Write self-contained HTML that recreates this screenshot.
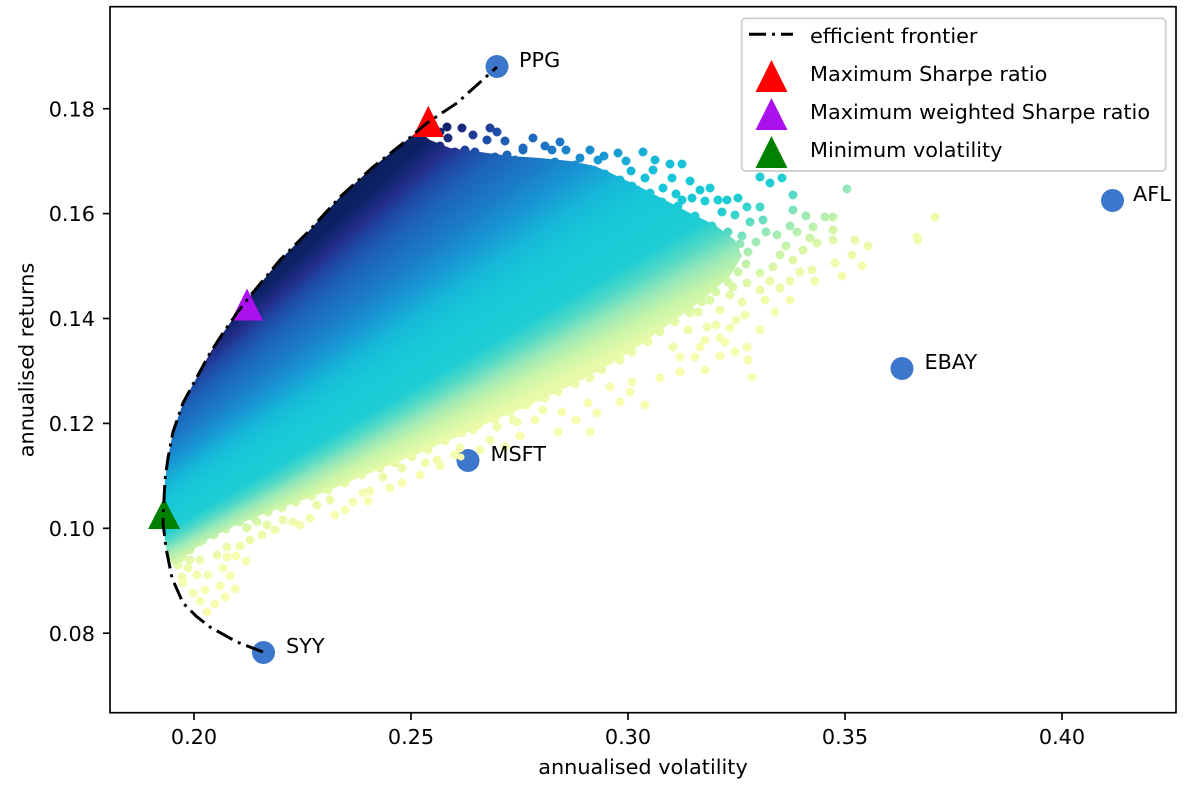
<!DOCTYPE html>
<html>
<head>
<meta charset="utf-8">
<style>
  html,body{margin:0;padding:0;background:#fff;}
  #wrap{position:relative;width:1200px;height:796px;overflow:hidden;background:#fff;}
  svg{position:absolute;left:0;top:0;}
  #cloud{position:absolute;left:0;top:0;width:1200px;height:796px;
    background:conic-gradient(from 0deg at -300px 800px,
      #081d58 0deg, #081d58 46deg, #0c2266 47.8deg, #222d8a 48.9deg, #1f48a4 49.8deg,
      #1d62b8 51deg, #1b7ec8 53deg, #1898d4 54.5deg, #16b8d8 56deg, #18c8d8 57.5deg,
      #1ecdd4 60deg, #50d9c6 61deg, #98e8b8 62deg, #c8f4a8 63deg, #e6faa8 64deg,
      #f6fcb0 65.5deg, #fbfdb6 90deg, #fbfdb6 360deg);
    clip-path: path(nonzero, 'M176,570 L170,560 L166,548 L163,523 L164,500 L165,480 L168,458 L173,432 L183,403 L197,377 L210,353 L223,333 L237,313 L250,296 L280,260 L307,233 L340,197 L373,167 L407,140 L418,131 L430,140 L450,148 L480,152 L510,156 L540,158 L570,161 L595,166 L615,175 L640,187 L665,200 L690,213 L715,225 L735,240 L742,256 L730,276 L705,298 L675,320 L642,344 L608,366 L570,386 L530,405 L490,422 L450,440 L410,457 L370,473 L330,490 L290,505 L258,516 L230,528 L205,541 L188,554 Z M442.5,127a4.5,4.5 0 1 1 9,0a4.5,4.5 0 1 1 -9,0z M443.5,138a4.5,4.5 0 1 1 9,0a4.5,4.5 0 1 1 -9,0z M468.5,135a4.5,4.5 0 1 1 9,0a4.5,4.5 0 1 1 -9,0z M492.5,132a4.5,4.5 0 1 1 9,0a4.5,4.5 0 1 1 -9,0z M482.5,140a4.5,4.5 0 1 1 9,0a4.5,4.5 0 1 1 -9,0z M528.5,138a4.5,4.5 0 1 1 9,0a4.5,4.5 0 1 1 -9,0z M428.5,146a4.5,4.5 0 1 1 9,0a4.5,4.5 0 1 1 -9,0z M460.5,150a4.5,4.5 0 1 1 9,0a4.5,4.5 0 1 1 -9,0z M470.5,152a4.5,4.5 0 1 1 9,0a4.5,4.5 0 1 1 -9,0z M502.5,155a4.5,4.5 0 1 1 9,0a4.5,4.5 0 1 1 -9,0z M518.5,150a4.5,4.5 0 1 1 9,0a4.5,4.5 0 1 1 -9,0z M478.5,160a4.5,4.5 0 1 1 9,0a4.5,4.5 0 1 1 -9,0z M452.5,158a4.5,4.5 0 1 1 9,0a4.5,4.5 0 1 1 -9,0z M518.5,148a4.5,4.5 0 1 1 9,0a4.5,4.5 0 1 1 -9,0z M555.5,142a4.5,4.5 0 1 1 9,0a4.5,4.5 0 1 1 -9,0z M575.5,158a4.5,4.5 0 1 1 9,0a4.5,4.5 0 1 1 -9,0z M593.5,160a4.5,4.5 0 1 1 9,0a4.5,4.5 0 1 1 -9,0z M613.5,153a4.5,4.5 0 1 1 9,0a4.5,4.5 0 1 1 -9,0z M638.5,152a4.5,4.5 0 1 1 9,0a4.5,4.5 0 1 1 -9,0z M648.5,170a4.5,4.5 0 1 1 9,0a4.5,4.5 0 1 1 -9,0z M665.5,164a4.5,4.5 0 1 1 9,0a4.5,4.5 0 1 1 -9,0z M677.5,164a4.5,4.5 0 1 1 9,0a4.5,4.5 0 1 1 -9,0z M685.5,181a4.5,4.5 0 1 1 9,0a4.5,4.5 0 1 1 -9,0z M658.5,188a4.5,4.5 0 1 1 9,0a4.5,4.5 0 1 1 -9,0z M612.5,183a4.5,4.5 0 1 1 9,0a4.5,4.5 0 1 1 -9,0z M632.5,190a4.5,4.5 0 1 1 9,0a4.5,4.5 0 1 1 -9,0z M677.5,200a4.5,4.5 0 1 1 9,0a4.5,4.5 0 1 1 -9,0z M687.5,198a4.5,4.5 0 1 1 9,0a4.5,4.5 0 1 1 -9,0z M700.5,201a4.5,4.5 0 1 1 9,0a4.5,4.5 0 1 1 -9,0z M713.5,200a4.5,4.5 0 1 1 9,0a4.5,4.5 0 1 1 -9,0z M722.5,200a4.5,4.5 0 1 1 9,0a4.5,4.5 0 1 1 -9,0z M733.5,198a4.5,4.5 0 1 1 9,0a4.5,4.5 0 1 1 -9,0z M755.5,177a4.5,4.5 0 1 1 9,0a4.5,4.5 0 1 1 -9,0z M765.5,183a4.5,4.5 0 1 1 9,0a4.5,4.5 0 1 1 -9,0z M777.5,178a4.5,4.5 0 1 1 9,0a4.5,4.5 0 1 1 -9,0z M755.5,207a4.5,4.5 0 1 1 9,0a4.5,4.5 0 1 1 -9,0z M788.5,195a4.5,4.5 0 1 1 9,0a4.5,4.5 0 1 1 -9,0z M788.5,210a4.5,4.5 0 1 1 9,0a4.5,4.5 0 1 1 -9,0z M842.5,189a4.5,4.5 0 1 1 9,0a4.5,4.5 0 1 1 -9,0z M758.5,220a4.5,4.5 0 1 1 9,0a4.5,4.5 0 1 1 -9,0z M772.5,235a4.5,4.5 0 1 1 9,0a4.5,4.5 0 1 1 -9,0z M792.5,232a4.5,4.5 0 1 1 9,0a4.5,4.5 0 1 1 -9,0z M808.5,227a4.5,4.5 0 1 1 9,0a4.5,4.5 0 1 1 -9,0z M820.5,217a4.5,4.5 0 1 1 9,0a4.5,4.5 0 1 1 -9,0z M828.5,217a4.5,4.5 0 1 1 9,0a4.5,4.5 0 1 1 -9,0z M828.5,230a4.5,4.5 0 1 1 9,0a4.5,4.5 0 1 1 -9,0z M850.5,240a4.5,4.5 0 1 1 9,0a4.5,4.5 0 1 1 -9,0z M847.5,255a4.5,4.5 0 1 1 9,0a4.5,4.5 0 1 1 -9,0z M828.5,240a4.5,4.5 0 1 1 9,0a4.5,4.5 0 1 1 -9,0z M805.5,238a4.5,4.5 0 1 1 9,0a4.5,4.5 0 1 1 -9,0z M798.5,250a4.5,4.5 0 1 1 9,0a4.5,4.5 0 1 1 -9,0z M788.5,260a4.5,4.5 0 1 1 9,0a4.5,4.5 0 1 1 -9,0z M807.5,270a4.5,4.5 0 1 1 9,0a4.5,4.5 0 1 1 -9,0z M830.5,263a4.5,4.5 0 1 1 9,0a4.5,4.5 0 1 1 -9,0z M775.5,255a4.5,4.5 0 1 1 9,0a4.5,4.5 0 1 1 -9,0z M768.5,267a4.5,4.5 0 1 1 9,0a4.5,4.5 0 1 1 -9,0z M755.5,273a4.5,4.5 0 1 1 9,0a4.5,4.5 0 1 1 -9,0z M742.5,283a4.5,4.5 0 1 1 9,0a4.5,4.5 0 1 1 -9,0z M728.5,287a4.5,4.5 0 1 1 9,0a4.5,4.5 0 1 1 -9,0z M775.5,288a4.5,4.5 0 1 1 9,0a4.5,4.5 0 1 1 -9,0z M755.5,290a4.5,4.5 0 1 1 9,0a4.5,4.5 0 1 1 -9,0z M740.5,315a4.5,4.5 0 1 1 9,0a4.5,4.5 0 1 1 -9,0z M725.5,328a4.5,4.5 0 1 1 9,0a4.5,4.5 0 1 1 -9,0z M715.5,338a4.5,4.5 0 1 1 9,0a4.5,4.5 0 1 1 -9,0z M742.5,347a4.5,4.5 0 1 1 9,0a4.5,4.5 0 1 1 -9,0z M730.5,352a4.5,4.5 0 1 1 9,0a4.5,4.5 0 1 1 -9,0z M743.5,360a4.5,4.5 0 1 1 9,0a4.5,4.5 0 1 1 -9,0z M747.5,377a4.5,4.5 0 1 1 9,0a4.5,4.5 0 1 1 -9,0z M700.5,370a4.5,4.5 0 1 1 9,0a4.5,4.5 0 1 1 -9,0z M690.5,357a4.5,4.5 0 1 1 9,0a4.5,4.5 0 1 1 -9,0z M675.5,357a4.5,4.5 0 1 1 9,0a4.5,4.5 0 1 1 -9,0z M668.5,347a4.5,4.5 0 1 1 9,0a4.5,4.5 0 1 1 -9,0z M695.5,347a4.5,4.5 0 1 1 9,0a4.5,4.5 0 1 1 -9,0z M683.5,330a4.5,4.5 0 1 1 9,0a4.5,4.5 0 1 1 -9,0z M702.5,327a4.5,4.5 0 1 1 9,0a4.5,4.5 0 1 1 -9,0z M715.5,310a4.5,4.5 0 1 1 9,0a4.5,4.5 0 1 1 -9,0z M693.5,312a4.5,4.5 0 1 1 9,0a4.5,4.5 0 1 1 -9,0z M685.5,313a4.5,4.5 0 1 1 9,0a4.5,4.5 0 1 1 -9,0z M705.5,300a4.5,4.5 0 1 1 9,0a4.5,4.5 0 1 1 -9,0z M725.5,295a4.5,4.5 0 1 1 9,0a4.5,4.5 0 1 1 -9,0z M640.5,405a4.5,4.5 0 1 1 9,0a4.5,4.5 0 1 1 -9,0z M627.5,382a4.5,4.5 0 1 1 9,0a4.5,4.5 0 1 1 -9,0z M625.5,392a4.5,4.5 0 1 1 9,0a4.5,4.5 0 1 1 -9,0z M605.5,387a4.5,4.5 0 1 1 9,0a4.5,4.5 0 1 1 -9,0z M583.5,403a4.5,4.5 0 1 1 9,0a4.5,4.5 0 1 1 -9,0z M592.5,413a4.5,4.5 0 1 1 9,0a4.5,4.5 0 1 1 -9,0z M585.5,432a4.5,4.5 0 1 1 9,0a4.5,4.5 0 1 1 -9,0z M553.5,432a4.5,4.5 0 1 1 9,0a4.5,4.5 0 1 1 -9,0z M530.5,420a4.5,4.5 0 1 1 9,0a4.5,4.5 0 1 1 -9,0z M512.5,422a4.5,4.5 0 1 1 9,0a4.5,4.5 0 1 1 -9,0z M538.5,410a4.5,4.5 0 1 1 9,0a4.5,4.5 0 1 1 -9,0z M913.5,240a4.5,4.5 0 1 1 9,0a4.5,4.5 0 1 1 -9,0z M930.5,217a4.5,4.5 0 1 1 9,0a4.5,4.5 0 1 1 -9,0z M912.5,237a4.5,4.5 0 1 1 9,0a4.5,4.5 0 1 1 -9,0z M435.5,132a4.5,4.5 0 1 1 9,0a4.5,4.5 0 1 1 -9,0z M457.5,128a4.5,4.5 0 1 1 9,0a4.5,4.5 0 1 1 -9,0z M485.5,128a4.5,4.5 0 1 1 9,0a4.5,4.5 0 1 1 -9,0z M500.5,141a4.5,4.5 0 1 1 9,0a4.5,4.5 0 1 1 -9,0z M540.5,146a4.5,4.5 0 1 1 9,0a4.5,4.5 0 1 1 -9,0z M547.5,150a4.5,4.5 0 1 1 9,0a4.5,4.5 0 1 1 -9,0z M561.5,150a4.5,4.5 0 1 1 9,0a4.5,4.5 0 1 1 -9,0z M585.5,150a4.5,4.5 0 1 1 9,0a4.5,4.5 0 1 1 -9,0z M599.5,156a4.5,4.5 0 1 1 9,0a4.5,4.5 0 1 1 -9,0z M621.5,161a4.5,4.5 0 1 1 9,0a4.5,4.5 0 1 1 -9,0z M626.5,171a4.5,4.5 0 1 1 9,0a4.5,4.5 0 1 1 -9,0z M650.5,160a4.5,4.5 0 1 1 9,0a4.5,4.5 0 1 1 -9,0z M640.5,178a4.5,4.5 0 1 1 9,0a4.5,4.5 0 1 1 -9,0z M667.5,178a4.5,4.5 0 1 1 9,0a4.5,4.5 0 1 1 -9,0z M671.5,194a4.5,4.5 0 1 1 9,0a4.5,4.5 0 1 1 -9,0z M695.5,190a4.5,4.5 0 1 1 9,0a4.5,4.5 0 1 1 -9,0z M705.5,188a4.5,4.5 0 1 1 9,0a4.5,4.5 0 1 1 -9,0z M717.5,212a4.5,4.5 0 1 1 9,0a4.5,4.5 0 1 1 -9,0z M730.5,215a4.5,4.5 0 1 1 9,0a4.5,4.5 0 1 1 -9,0z M742.5,207a4.5,4.5 0 1 1 9,0a4.5,4.5 0 1 1 -9,0z M745.5,222a4.5,4.5 0 1 1 9,0a4.5,4.5 0 1 1 -9,0z M761.5,232a4.5,4.5 0 1 1 9,0a4.5,4.5 0 1 1 -9,0z M737.5,236a4.5,4.5 0 1 1 9,0a4.5,4.5 0 1 1 -9,0z M751.5,242a4.5,4.5 0 1 1 9,0a4.5,4.5 0 1 1 -9,0z M781.5,246a4.5,4.5 0 1 1 9,0a4.5,4.5 0 1 1 -9,0z M785.5,226a4.5,4.5 0 1 1 9,0a4.5,4.5 0 1 1 -9,0z M801.5,216a4.5,4.5 0 1 1 9,0a4.5,4.5 0 1 1 -9,0z M812.5,243a4.5,4.5 0 1 1 9,0a4.5,4.5 0 1 1 -9,0z M795.5,272a4.5,4.5 0 1 1 9,0a4.5,4.5 0 1 1 -9,0z M785.5,281a4.5,4.5 0 1 1 9,0a4.5,4.5 0 1 1 -9,0z M765.5,281a4.5,4.5 0 1 1 9,0a4.5,4.5 0 1 1 -9,0z M760.5,300a4.5,4.5 0 1 1 9,0a4.5,4.5 0 1 1 -9,0z M737.5,302a4.5,4.5 0 1 1 9,0a4.5,4.5 0 1 1 -9,0z M731.5,320a4.5,4.5 0 1 1 9,0a4.5,4.5 0 1 1 -9,0z M711.5,325a4.5,4.5 0 1 1 9,0a4.5,4.5 0 1 1 -9,0z M700.5,340a4.5,4.5 0 1 1 9,0a4.5,4.5 0 1 1 -9,0z M720.5,342a4.5,4.5 0 1 1 9,0a4.5,4.5 0 1 1 -9,0z M755.5,330a4.5,4.5 0 1 1 9,0a4.5,4.5 0 1 1 -9,0z M770.5,312a4.5,4.5 0 1 1 9,0a4.5,4.5 0 1 1 -9,0z M785.5,300a4.5,4.5 0 1 1 9,0a4.5,4.5 0 1 1 -9,0z M810.5,281a4.5,4.5 0 1 1 9,0a4.5,4.5 0 1 1 -9,0z M837.5,276a4.5,4.5 0 1 1 9,0a4.5,4.5 0 1 1 -9,0z M857.5,266a4.5,4.5 0 1 1 9,0a4.5,4.5 0 1 1 -9,0z M863.5,246a4.5,4.5 0 1 1 9,0a4.5,4.5 0 1 1 -9,0z M397.5,468a4.5,4.5 0 1 1 9,0a4.5,4.5 0 1 1 -9,0z M397.5,483a4.5,4.5 0 1 1 9,0a4.5,4.5 0 1 1 -9,0z M420.5,463a4.5,4.5 0 1 1 9,0a4.5,4.5 0 1 1 -9,0z M432.5,460a4.5,4.5 0 1 1 9,0a4.5,4.5 0 1 1 -9,0z M378.5,477a4.5,4.5 0 1 1 9,0a4.5,4.5 0 1 1 -9,0z M358.5,493a4.5,4.5 0 1 1 9,0a4.5,4.5 0 1 1 -9,0z M348.5,502a4.5,4.5 0 1 1 9,0a4.5,4.5 0 1 1 -9,0z M312.5,505a4.5,4.5 0 1 1 9,0a4.5,4.5 0 1 1 -9,0z M325.5,500a4.5,4.5 0 1 1 9,0a4.5,4.5 0 1 1 -9,0z M288.5,522a4.5,4.5 0 1 1 9,0a4.5,4.5 0 1 1 -9,0z M278.5,520a4.5,4.5 0 1 1 9,0a4.5,4.5 0 1 1 -9,0z M262.5,525a4.5,4.5 0 1 1 9,0a4.5,4.5 0 1 1 -9,0z M252.5,522a4.5,4.5 0 1 1 9,0a4.5,4.5 0 1 1 -9,0z M242.5,528a4.5,4.5 0 1 1 9,0a4.5,4.5 0 1 1 -9,0z M222.5,547a4.5,4.5 0 1 1 9,0a4.5,4.5 0 1 1 -9,0z M222.5,557a4.5,4.5 0 1 1 9,0a4.5,4.5 0 1 1 -9,0z M212.5,555a4.5,4.5 0 1 1 9,0a4.5,4.5 0 1 1 -9,0z M218.5,568a4.5,4.5 0 1 1 9,0a4.5,4.5 0 1 1 -9,0z M203.5,575a4.5,4.5 0 1 1 9,0a4.5,4.5 0 1 1 -9,0z M192.5,575a4.5,4.5 0 1 1 9,0a4.5,4.5 0 1 1 -9,0z M195.5,560a4.5,4.5 0 1 1 9,0a4.5,4.5 0 1 1 -9,0z M185.5,560a4.5,4.5 0 1 1 9,0a4.5,4.5 0 1 1 -9,0z M177.5,577a4.5,4.5 0 1 1 9,0a4.5,4.5 0 1 1 -9,0z M178.5,583a4.5,4.5 0 1 1 9,0a4.5,4.5 0 1 1 -9,0z M188.5,593a4.5,4.5 0 1 1 9,0a4.5,4.5 0 1 1 -9,0z M230.5,589a4.5,4.5 0 1 1 9,0a4.5,4.5 0 1 1 -9,0z M210.5,604a4.5,4.5 0 1 1 9,0a4.5,4.5 0 1 1 -9,0z M185.5,540a4.5,4.5 0 1 1 9,0a4.5,4.5 0 1 1 -9,0z M198.5,540a4.5,4.5 0 1 1 9,0a4.5,4.5 0 1 1 -9,0z M468.5,430a4.5,4.5 0 1 1 9,0a4.5,4.5 0 1 1 -9,0z M492.5,427a4.5,4.5 0 1 1 9,0a4.5,4.5 0 1 1 -9,0z M508.5,420a4.5,4.5 0 1 1 9,0a4.5,4.5 0 1 1 -9,0z M522.5,405a4.5,4.5 0 1 1 9,0a4.5,4.5 0 1 1 -9,0z M535.5,397a4.5,4.5 0 1 1 9,0a4.5,4.5 0 1 1 -9,0z M485.5,440a4.5,4.5 0 1 1 9,0a4.5,4.5 0 1 1 -9,0z M455.5,448a4.5,4.5 0 1 1 9,0a4.5,4.5 0 1 1 -9,0z M442.5,437a4.5,4.5 0 1 1 9,0a4.5,4.5 0 1 1 -9,0z M557.5,412a4.5,4.5 0 1 1 9,0a4.5,4.5 0 1 1 -9,0z M571.5,420a4.5,4.5 0 1 1 9,0a4.5,4.5 0 1 1 -9,0z M515.5,436a4.5,4.5 0 1 1 9,0a4.5,4.5 0 1 1 -9,0z M500.5,447a4.5,4.5 0 1 1 9,0a4.5,4.5 0 1 1 -9,0z M475.5,450a4.5,4.5 0 1 1 9,0a4.5,4.5 0 1 1 -9,0z M450.5,455a4.5,4.5 0 1 1 9,0a4.5,4.5 0 1 1 -9,0z M435.5,466a4.5,4.5 0 1 1 9,0a4.5,4.5 0 1 1 -9,0z M415.5,475a4.5,4.5 0 1 1 9,0a4.5,4.5 0 1 1 -9,0z M385.5,488a4.5,4.5 0 1 1 9,0a4.5,4.5 0 1 1 -9,0z M365.5,491a4.5,4.5 0 1 1 9,0a4.5,4.5 0 1 1 -9,0z M363.5,501a4.5,4.5 0 1 1 9,0a4.5,4.5 0 1 1 -9,0z M340.5,510a4.5,4.5 0 1 1 9,0a4.5,4.5 0 1 1 -9,0z M330.5,515a4.5,4.5 0 1 1 9,0a4.5,4.5 0 1 1 -9,0z M305.5,518a4.5,4.5 0 1 1 9,0a4.5,4.5 0 1 1 -9,0z M295.5,525a4.5,4.5 0 1 1 9,0a4.5,4.5 0 1 1 -9,0z M270.5,530a4.5,4.5 0 1 1 9,0a4.5,4.5 0 1 1 -9,0z M257.5,535a4.5,4.5 0 1 1 9,0a4.5,4.5 0 1 1 -9,0z M245.5,540a4.5,4.5 0 1 1 9,0a4.5,4.5 0 1 1 -9,0z M235.5,546a4.5,4.5 0 1 1 9,0a4.5,4.5 0 1 1 -9,0z M231.5,556a4.5,4.5 0 1 1 9,0a4.5,4.5 0 1 1 -9,0z M241.5,561a4.5,4.5 0 1 1 9,0a4.5,4.5 0 1 1 -9,0z M225.5,576a4.5,4.5 0 1 1 9,0a4.5,4.5 0 1 1 -9,0z M215.5,586a4.5,4.5 0 1 1 9,0a4.5,4.5 0 1 1 -9,0z M200.5,590a4.5,4.5 0 1 1 9,0a4.5,4.5 0 1 1 -9,0z M195.5,601a4.5,4.5 0 1 1 9,0a4.5,4.5 0 1 1 -9,0z M202.5,612a4.5,4.5 0 1 1 9,0a4.5,4.5 0 1 1 -9,0z M220.5,597a4.5,4.5 0 1 1 9,0a4.5,4.5 0 1 1 -9,0z M183.5,568a4.5,4.5 0 1 1 9,0a4.5,4.5 0 1 1 -9,0z M615.5,402a4.5,4.5 0 1 1 9,0a4.5,4.5 0 1 1 -9,0z M655.5,378a4.5,4.5 0 1 1 9,0a4.5,4.5 0 1 1 -9,0z M675.5,372a4.5,4.5 0 1 1 9,0a4.5,4.5 0 1 1 -9,0z M715.5,356a4.5,4.5 0 1 1 9,0a4.5,4.5 0 1 1 -9,0z M435.5,146a4.5,4.5 0 1 1 9,0a4.5,4.5 0 1 1 -9,0z M450.5,152a4.5,4.5 0 1 1 9,0a4.5,4.5 0 1 1 -9,0z M465.5,155a4.5,4.5 0 1 1 9,0a4.5,4.5 0 1 1 -9,0z M490.5,157a4.5,4.5 0 1 1 9,0a4.5,4.5 0 1 1 -9,0z M510.5,160a4.5,4.5 0 1 1 9,0a4.5,4.5 0 1 1 -9,0z M525.5,162a4.5,4.5 0 1 1 9,0a4.5,4.5 0 1 1 -9,0z M550.5,162a4.5,4.5 0 1 1 9,0a4.5,4.5 0 1 1 -9,0z M570.5,165a4.5,4.5 0 1 1 9,0a4.5,4.5 0 1 1 -9,0z M583.5,170a4.5,4.5 0 1 1 9,0a4.5,4.5 0 1 1 -9,0z M600.5,174a4.5,4.5 0 1 1 9,0a4.5,4.5 0 1 1 -9,0z M615.5,180a4.5,4.5 0 1 1 9,0a4.5,4.5 0 1 1 -9,0z M627.5,186a4.5,4.5 0 1 1 9,0a4.5,4.5 0 1 1 -9,0z M645.5,193a4.5,4.5 0 1 1 9,0a4.5,4.5 0 1 1 -9,0z M657.5,202a4.5,4.5 0 1 1 9,0a4.5,4.5 0 1 1 -9,0z M673.5,206a4.5,4.5 0 1 1 9,0a4.5,4.5 0 1 1 -9,0z M690.5,216a4.5,4.5 0 1 1 9,0a4.5,4.5 0 1 1 -9,0z M707.5,226a4.5,4.5 0 1 1 9,0a4.5,4.5 0 1 1 -9,0z M723.5,232a4.5,4.5 0 1 1 9,0a4.5,4.5 0 1 1 -9,0z M735.5,244a4.5,4.5 0 1 1 9,0a4.5,4.5 0 1 1 -9,0z M743.5,252a4.5,4.5 0 1 1 9,0a4.5,4.5 0 1 1 -9,0z M741.5,264a4.5,4.5 0 1 1 9,0a4.5,4.5 0 1 1 -9,0z M733.5,272a4.5,4.5 0 1 1 9,0a4.5,4.5 0 1 1 -9,0z M723.5,282a4.5,4.5 0 1 1 9,0a4.5,4.5 0 1 1 -9,0z M711.5,292a4.5,4.5 0 1 1 9,0a4.5,4.5 0 1 1 -9,0z M697.5,302a4.5,4.5 0 1 1 9,0a4.5,4.5 0 1 1 -9,0z M685.5,310a4.5,4.5 0 1 1 9,0a4.5,4.5 0 1 1 -9,0z M670.5,322a4.5,4.5 0 1 1 9,0a4.5,4.5 0 1 1 -9,0z M655.5,332a4.5,4.5 0 1 1 9,0a4.5,4.5 0 1 1 -9,0z M643.5,342a4.5,4.5 0 1 1 9,0a4.5,4.5 0 1 1 -9,0z M627.5,352a4.5,4.5 0 1 1 9,0a4.5,4.5 0 1 1 -9,0z M615.5,360a4.5,4.5 0 1 1 9,0a4.5,4.5 0 1 1 -9,0z M597.5,370a4.5,4.5 0 1 1 9,0a4.5,4.5 0 1 1 -9,0z M585.5,378a4.5,4.5 0 1 1 9,0a4.5,4.5 0 1 1 -9,0z M570.5,384a4.5,4.5 0 1 1 9,0a4.5,4.5 0 1 1 -9,0z M553.5,392a4.5,4.5 0 1 1 9,0a4.5,4.5 0 1 1 -9,0z M540.5,398a4.5,4.5 0 1 1 9,0a4.5,4.5 0 1 1 -9,0z M520.5,405a4.5,4.5 0 1 1 9,0a4.5,4.5 0 1 1 -9,0z M505.5,412a4.5,4.5 0 1 1 9,0a4.5,4.5 0 1 1 -9,0z M490.5,420a4.5,4.5 0 1 1 9,0a4.5,4.5 0 1 1 -9,0z M473.5,425a4.5,4.5 0 1 1 9,0a4.5,4.5 0 1 1 -9,0z M457.5,433a4.5,4.5 0 1 1 9,0a4.5,4.5 0 1 1 -9,0z M440.5,441a4.5,4.5 0 1 1 9,0a4.5,4.5 0 1 1 -9,0z M423.5,450a4.5,4.5 0 1 1 9,0a4.5,4.5 0 1 1 -9,0z M407.5,457a4.5,4.5 0 1 1 9,0a4.5,4.5 0 1 1 -9,0z M390.5,463a4.5,4.5 0 1 1 9,0a4.5,4.5 0 1 1 -9,0z M375.5,468a4.5,4.5 0 1 1 9,0a4.5,4.5 0 1 1 -9,0z M357.5,475a4.5,4.5 0 1 1 9,0a4.5,4.5 0 1 1 -9,0z M340.5,483a4.5,4.5 0 1 1 9,0a4.5,4.5 0 1 1 -9,0z M323.5,490a4.5,4.5 0 1 1 9,0a4.5,4.5 0 1 1 -9,0z M307.5,496a4.5,4.5 0 1 1 9,0a4.5,4.5 0 1 1 -9,0z M291.5,502a4.5,4.5 0 1 1 9,0a4.5,4.5 0 1 1 -9,0z M277.5,508a4.5,4.5 0 1 1 9,0a4.5,4.5 0 1 1 -9,0z M263.5,512a4.5,4.5 0 1 1 9,0a4.5,4.5 0 1 1 -9,0z M248.5,517a4.5,4.5 0 1 1 9,0a4.5,4.5 0 1 1 -9,0z M235.5,522a4.5,4.5 0 1 1 9,0a4.5,4.5 0 1 1 -9,0z M221.5,529a4.5,4.5 0 1 1 9,0a4.5,4.5 0 1 1 -9,0z M209.5,535a4.5,4.5 0 1 1 9,0a4.5,4.5 0 1 1 -9,0z M195.5,542a4.5,4.5 0 1 1 9,0a4.5,4.5 0 1 1 -9,0z M185.5,550a4.5,4.5 0 1 1 9,0a4.5,4.5 0 1 1 -9,0z M177.5,557a4.5,4.5 0 1 1 9,0a4.5,4.5 0 1 1 -9,0z M173.5,565a4.5,4.5 0 1 1 9,0a4.5,4.5 0 1 1 -9,0z M457.5,457a3.5,3.5 0 1 1 7,0a3.5,3.5 0 1 1 -7,0z');
  }
  text{font-family:"DejaVu Sans","Liberation Sans",sans-serif;font-size:20.8px;fill:#000;}
</style>
</head>
<body>
<div id="wrap">
  <svg width="1200" height="796" viewBox="0 0 1200 796">
    <g fill="#3d77cc">
      <circle cx="497" cy="66.5" r="11.5"/>
      <circle cx="263.5" cy="652.5" r="11.5"/>
      <circle cx="468" cy="460.5" r="11.5"/>
      <circle cx="902" cy="368.5" r="11.5"/>
      <circle cx="1112.5" cy="200.5" r="11.5"/>
    </g>
  </svg>

  <div id="cloud"></div>

  <svg width="1200" height="796" viewBox="0 0 1200 796">
    <polygon points="428.3,105.8 412.8,137 443.8,137" fill="#ff0000"/>
    <polygon points="247,288.5 231,320.5 263,320.5" fill="#aa11ee"/>
    <polygon points="164,498 148,529 180,529" fill="#008000"/>

    <path d="M263,652 L237,642 L210,627 L196,616 L183,603 L172,578 L166,548 L163,523 L164,500 L165,480 L168,458 L173,432 L183,403 L197,377 L210,353 L223,333 L237,313 L250,296 L280,260 L307,233 L340,197 L373,167 L407,140 L427,123 L457,103 L497,67"
      fill="none" stroke="#000" stroke-width="3" stroke-dasharray="18 6 3 6"/>

    <text x="519" y="67">PPG</text>
    <text x="286" y="653">SYY</text>
    <text x="490.5" y="461">MSFT</text>
    <text x="924.5" y="369">EBAY</text>
    <text x="1133" y="201">AFL</text>

    <rect x="110" y="6.7" width="1066" height="706" fill="none" stroke="#000" stroke-width="1.67"/>

    <g stroke="#000" stroke-width="1.67">
      <line x1="103" y1="108.7" x2="110" y2="108.7"/>
      <line x1="103" y1="213.6" x2="110" y2="213.6"/>
      <line x1="103" y1="318.5" x2="110" y2="318.5"/>
      <line x1="103" y1="423.4" x2="110" y2="423.4"/>
      <line x1="103" y1="528.3" x2="110" y2="528.3"/>
      <line x1="103" y1="633.2" x2="110" y2="633.2"/>
    </g>
    <g text-anchor="end">
      <text x="95" y="116.3">0.18</text>
      <text x="95" y="221.2">0.16</text>
      <text x="95" y="326.1">0.14</text>
      <text x="95" y="431">0.12</text>
      <text x="95" y="535.9">0.10</text>
      <text x="95" y="640.8">0.08</text>
    </g>

    <g stroke="#000" stroke-width="1.67">
      <line x1="194" y1="712.7" x2="194" y2="720"/>
      <line x1="411" y1="712.7" x2="411" y2="720"/>
      <line x1="628" y1="712.7" x2="628" y2="720"/>
      <line x1="845" y1="712.7" x2="845" y2="720"/>
      <line x1="1062" y1="712.7" x2="1062" y2="720"/>
    </g>
    <g text-anchor="middle">
      <text x="194" y="744">0.20</text>
      <text x="411" y="744">0.25</text>
      <text x="628" y="744">0.30</text>
      <text x="845" y="744">0.35</text>
      <text x="1062" y="744">0.40</text>
    </g>

    <text x="643" y="774" text-anchor="middle">annualised volatility</text>
    <text transform="translate(33.5,360) rotate(-90)" text-anchor="middle">annualised returns</text>

    <rect x="741.7" y="18.3" width="424" height="152.7" rx="4" ry="4" fill="#fff" fill-opacity="0.8" stroke="#cccccc" stroke-width="1.67"/>
    <line x1="749" y1="34.3" x2="793" y2="34.3" stroke="#000" stroke-width="3" stroke-dasharray="17 6 3 6"/>
    <polygon points="771.5,60 755.5,92 787.5,92" fill="#ff0000"/>
    <polygon points="771.5,98 755.5,130 787.5,130" fill="#aa11ee"/>
    <polygon points="771.5,136 755.5,168 787.5,168" fill="#008000"/>
    <text x="810" y="43">efficient frontier</text>
    <text x="810" y="81">Maximum Sharpe ratio</text>
    <text x="810" y="119">Maximum weighted Sharpe ratio</text>
    <text x="810" y="157">Minimum volatility</text>
  </svg>
</div>
</body>
</html>
